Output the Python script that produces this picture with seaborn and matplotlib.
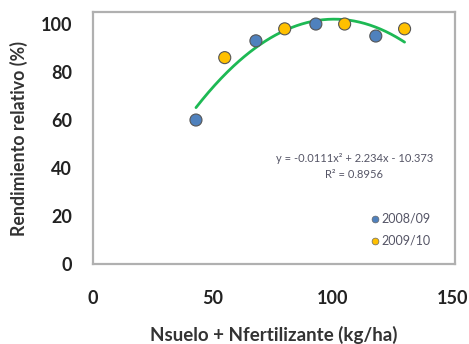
import numpy as np
import pandas as pd
import matplotlib
matplotlib.use("Agg")
import matplotlib.pyplot as plt
import seaborn as sns

# Observed relative yield by total available nitrogen
n_total = [43, 68, 93, 118, 55, 80, 105, 130]
rel_yield = [60, 93, 100, 95, 86, 98, 100, 98]
season = ["2008/09", "2008/09", "2008/09", "2008/09",
          "2009/10", "2009/10", "2009/10", "2009/10"]

# Quadratic trend: y = a x^2 + b x + c
coef_a, coef_b, coef_c = -0.0111, 2.234, -10.373
r_squared = 0.8956
fit_range = [43, 130]

x_ticks = [0, 50, 100, 150]
y_ticks = [0, 20, 40, 60, 80, 100]

palette = {"2008/09": "#4F81BD", "2009/10": "#FFC000"}

sns.set_theme(style="white")
plt.rcParams["font.family"] = ["Lato", "DejaVu Sans"]

df = pd.DataFrame({"N": n_total, "RR": rel_yield, "Campaña": season})
xs = np.linspace(fit_range[0], fit_range[1], 200)
fit = pd.DataFrame({"N": xs, "RR": coef_a * xs**2 + coef_b * xs + coef_c})

fig = plt.figure(figsize=(4.69, 3.44), dpi=100)
ax = fig.add_axes([0.198, 0.2326, 0.772, 0.7324])

sns.lineplot(data=fit, x="N", y="RR", ax=ax, color="#1DB954", lw=2, zorder=2)
sns.scatterplot(data=df, x="N", y="RR", hue="Campaña", palette=palette,
                ax=ax, s=75, edgecolor="#555555", linewidth=0.8, zorder=3,
                legend=False)

ax.set_xlim(0, 151)
ax.set_ylim(0, 105)
ax.set_xticks(x_ticks)
ax.set_yticks(y_ticks)
ax.tick_params(axis="both", labelsize=13, colors="#333333", length=4,
               width=1, direction="out")
ax.tick_params(axis="x", pad=15)
ax.tick_params(axis="y", pad=11)
for lbl in ax.get_xticklabels() + ax.get_yticklabels():
    lbl.set_fontweight("bold")
    lbl.set_color("#222222")
ax.tick_params(axis="both", color="#AAAAAA")

for side in ["top", "right", "left", "bottom"]:
    ax.spines[side].set_color("#B0B0B0")
    ax.spines[side].set_linewidth(1.6)

ax.set_xlabel("Nsuelo + Nfertilizante (kg/ha)", fontsize=13.5,
              fontweight="bold", color="#333333", labelpad=13)
ax.set_ylabel("Rendimiento relativo (%)", fontsize=12.8,
              fontweight="bold", color="#333333", labelpad=9)

eq = f"y = {coef_a}x² + {coef_b}x - {abs(coef_c)}"
ax.text(109, 44, eq, fontsize=8, color="#555566", ha="center", va="center")
ax.text(109, 37.5, f"R² = {r_squared}", fontsize=8, color="#555566",
        ha="center", va="center")

# Legend entries drawn as marker + label
for i, (name, col) in enumerate(palette.items()):
    yy = 18.75 - i * 9.15
    ax.scatter([117.5], [yy], s=24, color=col, edgecolor="#666666",
               linewidth=0.5, zorder=3)
    ax.text(120.5, yy, name, fontsize=9, color="#555566", va="center")

fig.savefig("out.png", dpi=100)
